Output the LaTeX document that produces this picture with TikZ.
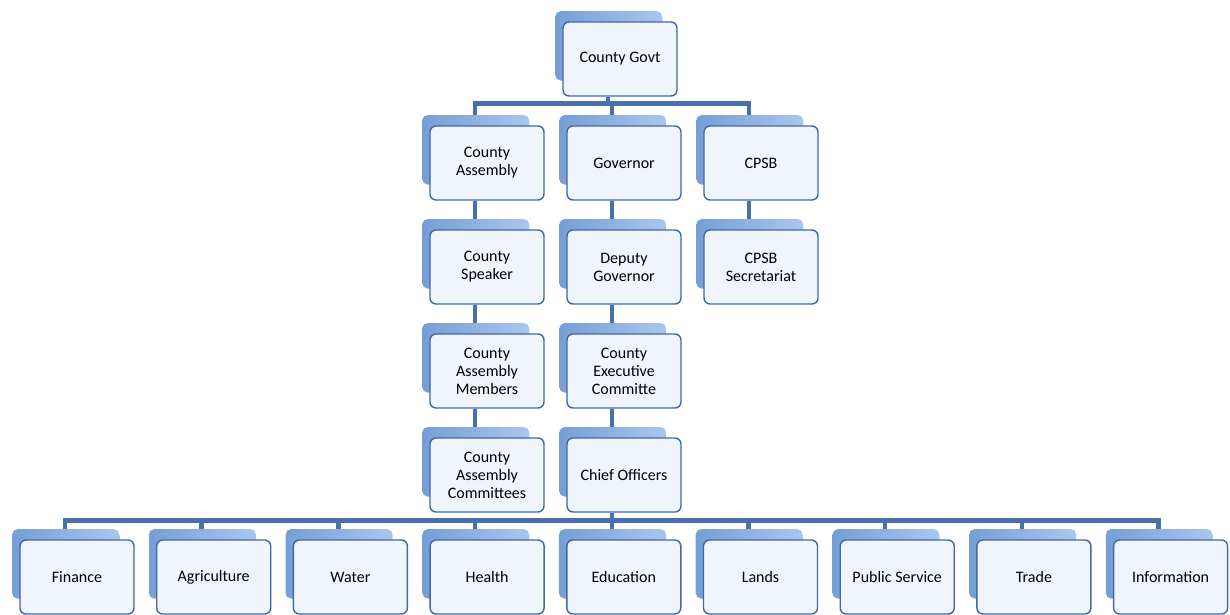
\documentclass[tikz,border=0pt]{standalone}
\usepackage{fontspec}
\setmainfont{Carlito}
\usetikzlibrary{shadows, backgrounds}

\definecolor{linkblue}{RGB}{74,112,170}
\definecolor{boxedge}{RGB}{62,104,166}
\definecolor{boxfill}{RGB}{240,244,251}
\definecolor{shadowdark}{RGB}{118,158,214}
\definecolor{shadowlight}{RGB}{170,198,236}

\tikzset{
  orgbox/.style={draw=boxedge, line width=1.4pt, fill=boxfill,
    rounded corners=6pt, minimum width=114pt, minimum height=74pt,
    align=center, font=\fontsize{16}{18}\selectfont,
    general shadow={shadow xshift=-12pt, shadow yshift=14pt,
      shadow scale=0.94, draw=none, left color=shadowdark,
      right color=shadowlight}},
  link/.style={draw=linkblue, line width=4.5pt}
}

\begin{document}
\begin{tikzpicture}[x=1pt, y=-1pt]

\useasboundingbox (0,0) rectangle (1230,614);

% Offset of the shadow centre, where the links meet the boxes
\def\sh{-12pt}

% Top
\node[orgbox] (govt) at (620, 59) {County Govt};

% Second row
\node[orgbox] (assembly) at (487, 163) {County\\Assembly};
\node[orgbox] (governor) at (624, 163) {Governor};
\node[orgbox] (cpsb) at (761, 163) {CPSB};

% Assembly column
\node[orgbox] (speaker) at (487, 267) {County\\Speaker};
\node[orgbox] (members) at (487, 371) {County\\Assembly\\Members};
\node[orgbox] (committees) at (487, 475) {County\\Assembly\\Committees};

% Executive column
\node[orgbox] (deputy) at (624, 267) {Deputy\\Governor};
\node[orgbox] (executive) at (624, 371) {County\\Executive\\Committe};
\node[orgbox] (chief) at (624, 475) {Chief Officers};

% CPSB column
\node[orgbox] (secretariat) at (761, 267) {CPSB\\Secretariat};

% Departments
\foreach \name/\label [count=\i from 0] in {finance/Finance,
    agriculture/Agriculture, water/Water, health/Health,
    education/Education, lands/Lands, public/Public Service,
    trade/Trade, information/Information}
  \node[orgbox] (\name) at (77+136.7*\i, 577) {\label};

% Links
\begin{pgfonlayer}{background}
\foreach \child in {assembly, governor, cpsb}
  \draw[link] ([xshift=\sh]govt.south) -- ++(0,7) -| ([xshift=\sh]\child.north);

\draw[link] ([xshift=\sh]assembly.south) -- ([xshift=\sh]speaker.north);
\draw[link] ([xshift=\sh]speaker.south) -- ([xshift=\sh]members.north);
\draw[link] ([xshift=\sh]members.south) -- ([xshift=\sh]committees.north);

\draw[link] ([xshift=\sh]governor.south) -- ([xshift=\sh]deputy.north);
\draw[link] ([xshift=\sh]deputy.south) -- ([xshift=\sh]executive.north);
\draw[link] ([xshift=\sh]executive.south) -- ([xshift=\sh]chief.north);

\draw[link] ([xshift=\sh]cpsb.south) -- ([xshift=\sh]secretariat.north);

\foreach \child in {finance, agriculture, water, health, education,
    lands, public, trade, information}
  \draw[link] ([xshift=\sh]chief.south) -- ++(0,8) -| ([xshift=\sh]\child.north);
\end{pgfonlayer}

\end{tikzpicture}
\end{document}
